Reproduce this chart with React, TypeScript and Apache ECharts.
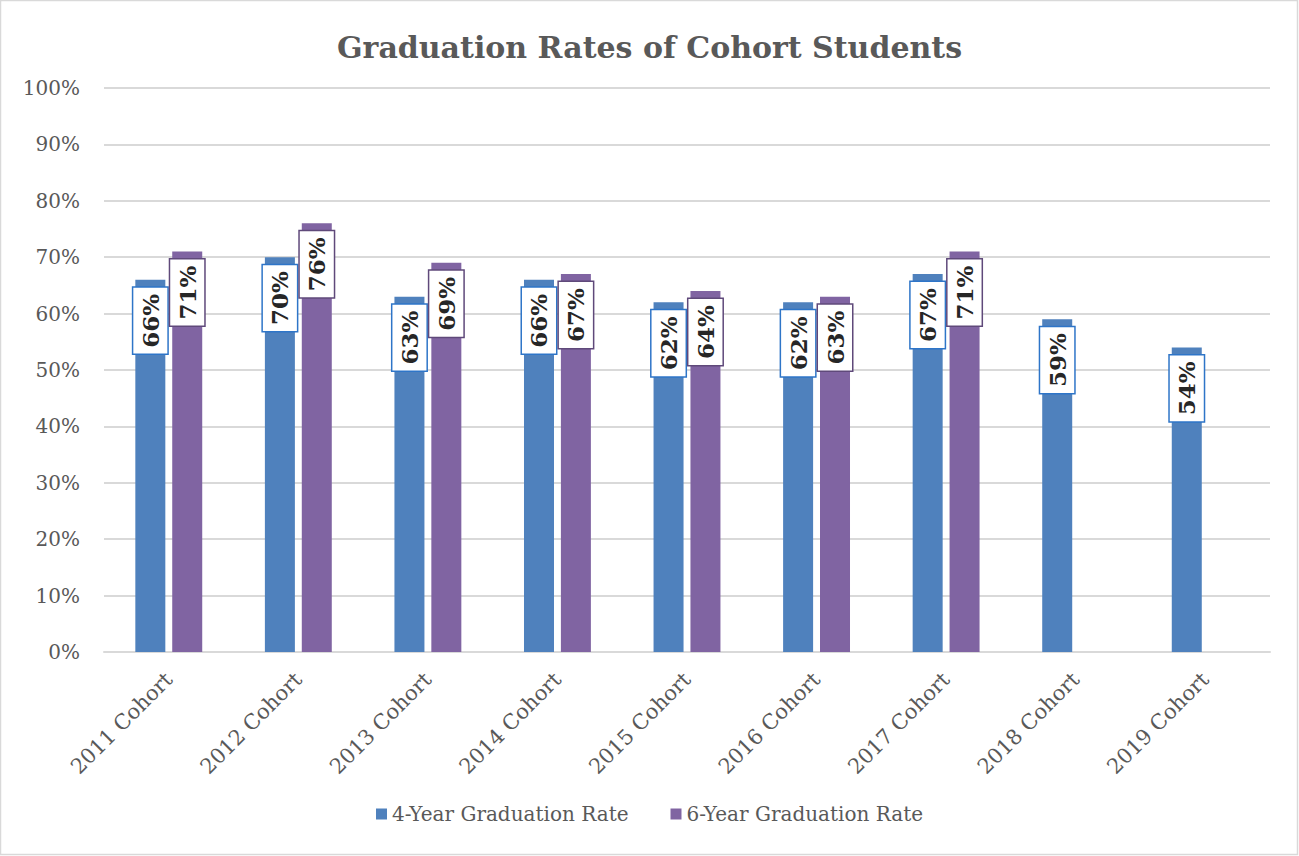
import React, { useEffect, useRef } from "react";
import * as echarts from "echarts";

const categories = [
  "2011 Cohort", "2012 Cohort", "2013 Cohort", "2014 Cohort", "2015 Cohort",
  "2016 Cohort", "2017 Cohort", "2018 Cohort", "2019 Cohort",
];
const fourYear = [66, 70, 63, 66, 62, 62, 67, 59, 54];
const sixYear: (number | null)[] = [71, 76, 69, 67, 64, 63, 71, null, null];
const yTicks = [0, 10, 20, 30, 40, 50, 60, 70, 80, 90, 100];

const SERIF = "'DejaVu Serif', serif";
const GRAY = "#595959";

function labelStyle(border: string) {
  return {
    show: true,
    position: "insideTop" as const,
    distance: 8,
    rotate: 90,
    align: "right" as const,
    verticalAlign: "middle" as const,
    formatter: (p: any) => `${p.value}%`,
    fontFamily: SERIF,
    fontWeight: "bold" as const,
    fontSize: 23,
    color: "#262626",
    backgroundColor: "#ffffff",
    borderColor: border,
    borderWidth: 1.5,
    padding: [5, 6],
    lineHeight: 24,
  };
}

export default function App() {
  const ref = useRef<HTMLDivElement>(null);
  useEffect(() => {
    if (!ref.current) return;
    const chart = echarts.init(ref.current, undefined, { renderer: "svg" });
    chart.setOption({
      animation: false,
      backgroundColor: "#ffffff",
      title: {
        text: "Graduation Rates of Cohort Students",
        left: "center",
        top: 27,
        textStyle: { fontFamily: SERIF, fontWeight: "bold", fontSize: 30, color: GRAY },
      },
      graphic: [
        {
          type: "rect",
          shape: { x: 0.5, y: 0.5, width: 1297, height: 854 },
          style: { fill: "none", stroke: "#D9D9D9", lineWidth: 1.5 },
          silent: true,
        },
      ],
      grid: { left: 104, right: 29, top: 88, bottom: 204 },
      legend: {
        bottom: 27,
        left: "center",
        itemWidth: 11,
        itemHeight: 11,
        itemGap: 42,
        icon: "rect",
        textStyle: { fontFamily: SERIF, fontSize: 20, color: GRAY },
        data: ["4-Year Graduation Rate", "6-Year Graduation Rate"],
      },
      xAxis: {
        type: "category",
        data: categories,
        axisLine: { lineStyle: { color: "#D9D9D9", width: 2 } },
        axisTick: { show: false },
        axisLabel: {
          rotate: 45,
          margin: 24,
          fontFamily: SERIF,
          fontSize: 21,
          color: GRAY,
          interval: 0,
        },
      },
      yAxis: {
        type: "value",
        min: 0,
        max: 100,
        interval: 10,
        axisLine: { show: false },
        axisTick: { show: false },
        splitLine: { lineStyle: { color: "#D9D9D9", width: 2 } },
        axisLabel: {
          margin: 24,
          fontFamily: SERIF,
          fontSize: 20,
          color: GRAY,
          formatter: (v: number) => (yTicks.includes(v) ? `${v}%` : ""),
        },
      },
      series: [
        {
          name: "4-Year Graduation Rate",
          type: "bar",
          data: fourYear,
          barWidth: 30,
          barGap: "23%",
          itemStyle: { color: "#4F81BD" },
          label: labelStyle("#2E75C8"),
        },
        {
          name: "6-Year Graduation Rate",
          type: "bar",
          data: sixYear,
          barWidth: 30,
          barGap: "23%",
          itemStyle: { color: "#8064A2" },
          label: labelStyle("#5F497A"),
        },
      ],
    });
    return () => chart.dispose();
  }, []);
  return (
    <div
      ref={ref}
      style={{ position: "fixed", left: 0, top: 0, width: 1299, height: 856 }}
    />
  );
}
